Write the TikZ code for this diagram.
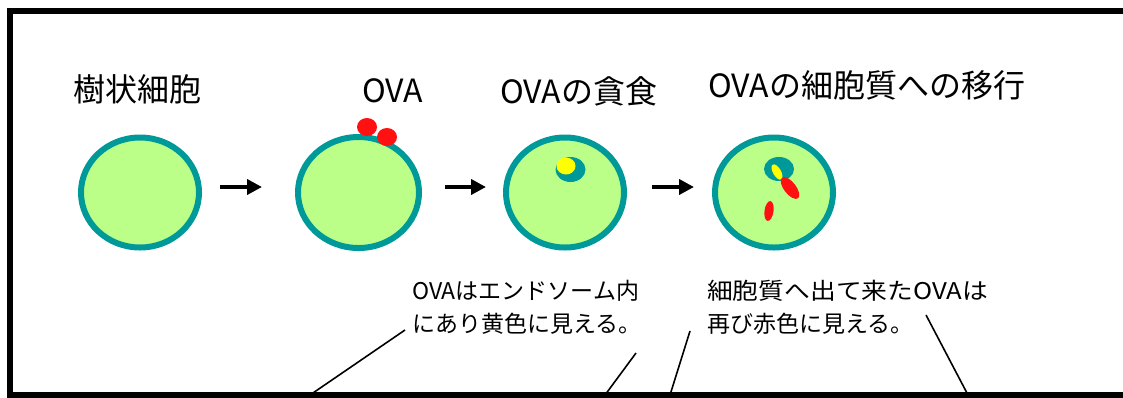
\documentclass[tikz,border=0pt]{standalone}
\usepackage{fontspec}
\setmainfont{Noto Sans CJK JP}
\usetikzlibrary{shapes.geometric,arrows.meta}
\definecolor{cellfill}{HTML}{BBFF88}
\definecolor{membrane}{HTML}{009999}
\definecolor{ovared}{HTML}{FF1111}
\definecolor{ovayellow}{HTML}{FFFF00}

\begin{document}
\begin{tikzpicture}[x=1pt,y=-1pt,
  cell/.style={ellipse, draw=membrane, fill=cellfill, line width=6pt,
    minimum width=118pt, minimum height=110pt, inner sep=0},
  blob/.style={ellipse, inner sep=0},
  title/.style={anchor=west, inner sep=0, font=\fontsize{32}{38}\selectfont},
  note/.style={anchor=west, inner sep=0, align=left, font=\fontsize{23}{33}\selectfont},
  steparrow/.style={line width=4pt, -{Triangle[length=15pt,width=15pt]}},
  leader/.style={line width=1.6pt}
]
\clip (0,0) rectangle (1123,397);
\fill[white] (0,0) rectangle (1123,397);
% outer frame (runs past the right edge)
\draw[line width=6pt] (10,11) rectangle (1150,395);

% stage titles
\node[title] (t1) at (73,89) {樹状細胞};
\node[title] (t2) at (362,91) {OVA};
\node[title] (t3) at (500,91) {OVAの貪食};
\node[title] (t4) at (708,85) {OVAの細胞質への移行};

% dendritic cells
\node[cell] (dc1) at (140,192.5) {};
\node[cell, minimum width=121pt, minimum height=111pt] (dc2) at (358.5,192.5) {};
\node[cell] (dc3) at (565,192.5) {};
\node[cell] (dc4) at (774,192.5) {};

% OVA at the surface
\node[blob, fill=ovared, minimum width=20pt, minimum height=18pt] (ova1) at (367,127) {};
\node[blob, fill=ovared, minimum width=20pt, minimum height=18pt] (ova2) at (387,137) {};

% endosome with OVA
\node[blob, fill=membrane, minimum width=30pt, minimum height=25pt] (endo3) at (570.5,169.5) {};
\node[blob, fill=ovayellow, minimum width=19pt, minimum height=17pt] (ova3) at (566,166) {};

% OVA leaving the endosome
\node[blob, fill=membrane, minimum width=30pt, minimum height=24pt] (endo4) at (779,169) {};
\node[blob, fill=ovayellow, minimum width=8pt, minimum height=17pt, rotate=30] (ova4) at (777,172) {};
\node[blob, fill=ovared, minimum width=12pt, minimum height=26pt, rotate=38] (ova5) at (790,188) {};
\node[blob, fill=ovared, minimum width=9pt, minimum height=20pt, rotate=-8] (ova6) at (769,211) {};

% stage arrows
\draw[steparrow, shorten <=18pt, shorten >=33pt] ([yshift=5.5pt]dc1.east) -- ([yshift=5.5pt]dc2.west);
\draw[steparrow, shorten <=23pt, shorten >=17pt] ([yshift=5.5pt]dc2.east) -- ([yshift=5.5pt]dc3.west);
\draw[steparrow, shorten <=25pt, shorten >=18pt] ([yshift=5.5pt]dc3.east) -- ([yshift=5.5pt]dc4.west);

% notes
\node[note] (n1) at (412,307.5) {OVAはエンドソーム内\\にあり黄色に見える。};
\node[note] (n2) at (707,307.5) {\scalebox{1.12}[1]{細胞質へ出て来たOVAは}\\再び赤色に見える。};

% leader lines
\coordinate (a1) at (405,330);
\coordinate (b1) at (310,395);
\coordinate (a2) at (636,353);
\coordinate (b2) at (605,395);
\coordinate (a3) at (690,331);
\coordinate (b3) at (670,395);
\coordinate (a4) at (926,315);
\coordinate (b4) at (968,395);
\draw[leader] (a1) -- (b1);
\draw[leader] (a2) -- (b2);
\draw[leader] (a3) -- (b3);
\draw[leader] (a4) -- (b4);
\end{tikzpicture}
\end{document}
